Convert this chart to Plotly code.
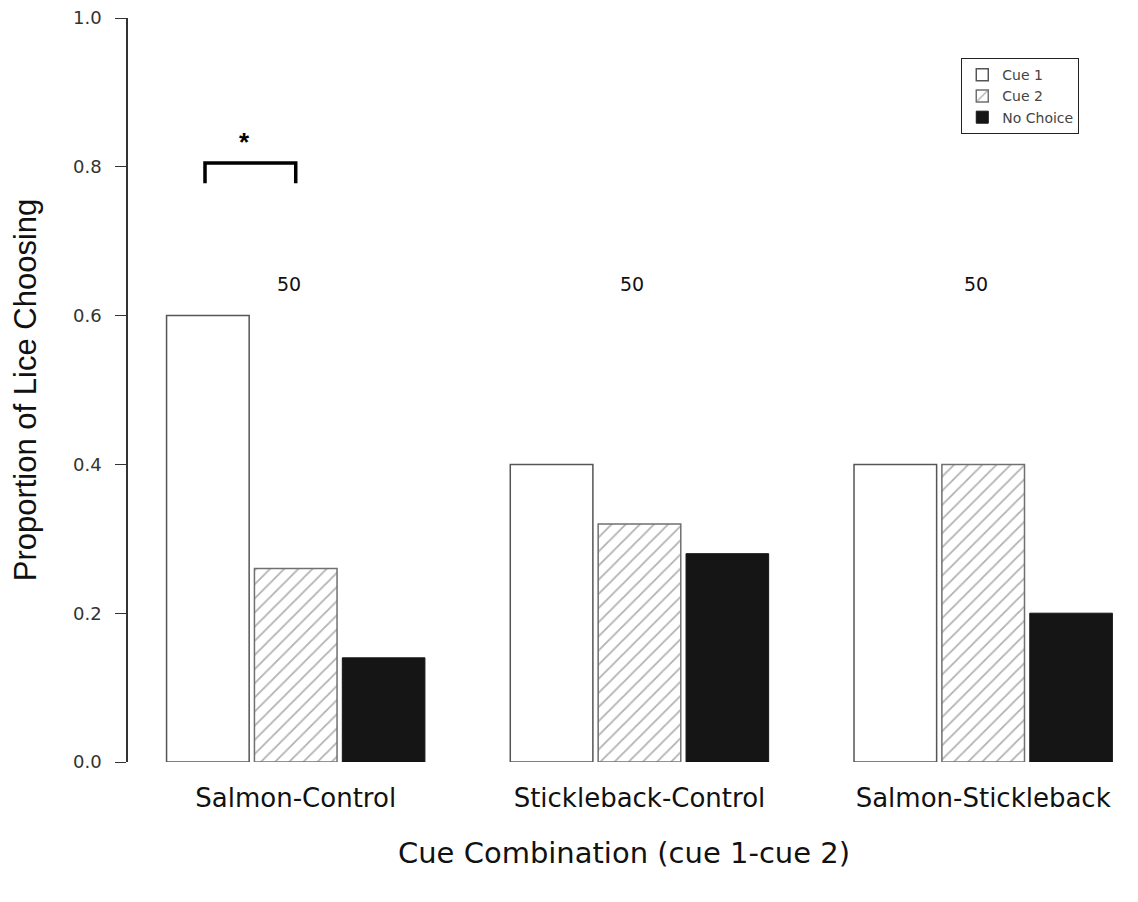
import plotly.graph_objects as go

categories = ["Salmon-Control", "Stickleback-Control", "Salmon-Stickleback"]
cue1 = [0.60, 0.40, 0.40]
cue2 = [0.26, 0.32, 0.40]
no_choice = [0.14, 0.28, 0.20]
n_labels = ["50", "50", "50"]
y_ticks = [0.0, 0.2, 0.4, 0.6, 0.8, 1.0]

SANS = "Liberation Sans, Arial, Helvetica, sans-serif"
WIDE = "DejaVu Sans, Verdana, sans-serif"

fig = go.Figure()
fig.add_trace(go.Bar(
    name="Cue 1", x=categories, y=cue1,
    marker=dict(color="white", line=dict(color="#555555", width=1.5)),
))
fig.add_trace(go.Bar(
    name="Cue 2", x=categories, y=cue2,
    marker=dict(color="white", line=dict(color="#707070", width=1.5),
                pattern=dict(shape="/", fgcolor="#666666", bgcolor="white",
                             size=10, solidity=0.18)),
))
fig.add_trace(go.Bar(
    name="No Choice", x=categories, y=no_choice,
    marker=dict(color="#151515", line=dict(color="#151515", width=1)),
))

annotations = []
for i, lab in enumerate(n_labels):
    annotations.append(dict(x=i, y=0.642, xref="x", yref="y", text=lab,
                            showarrow=False, xshift=-7,
                            font=dict(family=WIDE, size=19, color="#111111")))

# significance bracket between Cue 1 and Cue 2 of the first group
bar_offset = 0.264
x0, x1 = 0 - bar_offset, 0
y_low, y_high = 0.778, 0.805
shapes = [dict(type="path", xref="x", yref="y",
               path=f"M {x0} {y_low} L {x0} {y_high} L {x1} {y_high} L {x1} {y_low}",
               line=dict(color="black", width=3.5))]
annotations.append(dict(x=(x0 + x1) / 2, y=0.833, xref="x", yref="y", text="<b>*</b>",
                        showarrow=False, xshift=-6,
                        font=dict(family=SANS, size=26, color="black")))

fig.update_layout(
    width=1130, height=894,
    margin=dict(l=120, r=18, t=10, b=140),
    paper_bgcolor="white", plot_bgcolor="white",
    barmode="group", bargap=0.233, bargroupgap=0.06,
    font=dict(family=WIDE, color="#111111"),
    showlegend=True,
    legend=dict(x=0.84, y=0.946, xanchor="left", yanchor="top",
                bordercolor="#222222", borderwidth=1, bgcolor="white",
                font=dict(family=WIDE, size=14, color="#444444"),
                tracegroupgap=0, itemwidth=30),
    xaxis=dict(range=[-0.488, 2.398], showline=False, showgrid=False,
               ticks="", ticklabelstandoff=18, automargin="bottom",
               tickfont=dict(family=WIDE, size=26, color="#111111"),
               title=dict(text="Cue Combination (cue 1-cue 2)",
                          font=dict(family=WIDE, size=29, color="#111111"),
                          standoff=30)),
    yaxis=dict(range=[0, 1], showline=True, linecolor="#333333", linewidth=1.5,
               showgrid=False, zeroline=False, ticks="outside", ticklen=11,
               tickcolor="#333333", tickvals=y_ticks, ticklabelstandoff=10,
               ticklabeloverflow="allow", automargin="left",
               ticktext=[f"{v:.1f}" for v in y_ticks],
               tickfont=dict(family=WIDE, size=18, color="#333333"),
               title=dict(text="Proportion of Lice Choosing",
                          font=dict(family=SANS, size=31, color="#111111"),
                          standoff=28)),
    annotations=annotations, shapes=shapes,
)

fig.write_html("out.html")
